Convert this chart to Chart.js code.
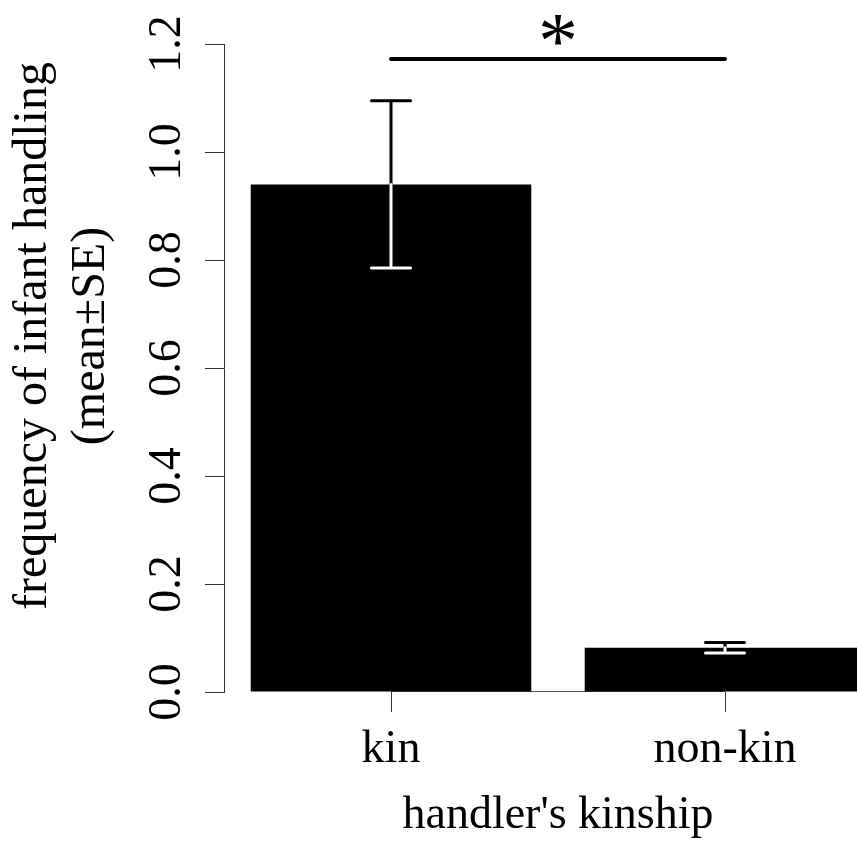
<!DOCTYPE html>
<html>
<head>
<meta charset="utf-8">
<script src="https://cdn.jsdelivr.net/npm/chart.js@4.4.1/dist/chart.umd.min.js"></script>
<style>
    html, body { margin: 0; padding: 0; overflow: hidden; background: #fff; }
    canvas { display: block; position: absolute; left: 0; top: 0; }
</style>
</head>
<body>
<canvas id="chart" width="900" height="849"></canvas>
<script>
// values
const categories = ['kin', 'non-kin'];
const means = [0.94, 0.082];
const stdErrors = [0.155, 0.0096];
const yRange = [0, 1.2];
const yStep = 0.2;
const sigPair = [0, 1];       // bars joined by the significance line
const sigLevel = 1.172;
const sigMark = '*';
const xTitle = "handler's kinship";
const yTitle = ['frequency of infant handling', '(mean\u00b1SE)'];

const FONT = 'Liberation Serif, Times New Roman, serif';

// R-style extras: rotated y labels, y title, error bars, significance bar
const extras = {
    id: 'extras',
    beforeDatasetsDraw(chart) {
        const ctx = chart.ctx;
        const x = chart.scales.x;
        const bottom = chart.chartArea.bottom;
        //axis line from first to last tick, mostly hidden by the bars
        ctx.save();
        ctx.strokeStyle = '#555';
        ctx.lineWidth = 1;
        ctx.beginPath();
        ctx.moveTo(x.getPixelForTick(0), bottom - 0.5);
        ctx.lineTo(x.getPixelForTick(categories.length - 1), bottom - 0.5);
        ctx.stroke();
        ctx.restore();
    },
    afterDatasetsDraw(chart) {
        const ctx = chart.ctx;
        const y = chart.scales.y;
        const bars = chart.getDatasetMeta(0).data;
        ctx.save();
        ctx.lineCap = 'round';
        ctx.lineWidth = 3;
        bars.forEach((bar, i) => {
            const top = y.getPixelForValue(means[i]);
            const hi = y.getPixelForValue(means[i] + stdErrors[i]);
            const lo = y.getPixelForValue(means[i] - stdErrors[i]);
            const half = 19.5;
            //upper whisker in black, lower one in white over the bar
            [[hi, '#000'], [lo, '#fff']].forEach(([end, col]) => {
                ctx.strokeStyle = col;
                ctx.beginPath();
                ctx.moveTo(bar.x, top);
                ctx.lineTo(bar.x, end);
                ctx.moveTo(bar.x - half, end);
                ctx.lineTo(bar.x + half, end);
                ctx.stroke();
            });
        });

        //significance bar
        const ys = y.getPixelForValue(sigLevel);
        const x0 = bars[sigPair[0]].x;
        const x1 = bars[sigPair[1]].x;
        ctx.strokeStyle = '#000';
        ctx.lineWidth = 4;
        ctx.beginPath();
        ctx.moveTo(x0, ys);
        ctx.lineTo(x1, ys);
        ctx.stroke();
        ctx.fillStyle = '#000';
        ctx.font = '80px ' + FONT;
        ctx.textAlign = 'center';
        ctx.textBaseline = 'alphabetic';
        ctx.fillText(sigMark, (x0 + x1) / 2, ys + 9);
        ctx.restore();
    },
    afterDraw(chart) {
        const ctx = chart.ctx;
        const y = chart.scales.y;
        const area = chart.chartArea;
        ctx.save();
        ctx.fillStyle = '#000';
        ctx.textAlign = 'center';
        ctx.textBaseline = 'alphabetic';
        ctx.font = '46px ' + FONT;
        //tick labels run along the axis, as in R's las=0
        y.ticks.forEach((t) => {
            ctx.save();
            ctx.translate(area.left - 44, y.getPixelForValue(t.value));
            ctx.rotate(-Math.PI / 2);
            ctx.fillText(t.value.toFixed(1), 0, 0);
            ctx.restore();
        });
        //two-line y title
        ctx.font = '48px ' + FONT;
        const cy = (area.top + area.bottom) / 2 - 32;
        yTitle.forEach((line, i) => {
            ctx.save();
            ctx.translate(46 + i * 58, cy);
            ctx.rotate(-Math.PI / 2);
            ctx.fillText(line, 0, 0);
            ctx.restore();
        });
        ctx.restore();
    },
};

new Chart(document.getElementById('chart').getContext('2d'), {
    type: 'bar',
    data: {
        labels: categories,
        datasets: [{
            data: means,
            backgroundColor: '#000',
            borderWidth: 0,
            barPercentage: 0.84,
            categoryPercentage: 1,
        }],
    },
    options: {
        responsive: false,
        animation: false,
        layout: {
            padding: { top: 44, right: 8, left: 0, bottom: 0 },
        },
        plugins: {
            legend: { display: false },
            tooltip: { enabled: false },
        },
        scales: {
            x: {
                offset: true,
                grid: {
                    drawOnChartArea: false,
                    drawTicks: true,
                    tickLength: 20,
                    offset: false,
                    color: '#333',
                },
                border: { display: false },
                ticks: {
                    color: '#000',
                    font: { family: FONT, size: 46 },
                    padding: 10,
                    maxRotation: 0,
                    autoSkip: false,
                },
                title: {
                    display: true,
                    text: xTitle,
                    color: '#000',
                    font: { family: FONT, size: 46 },
                    padding: { top: 0, bottom: 5 },
                },
                afterFit: (s) => { s.height = 157; },
            },
            y: {
                min: yRange[0],
                max: yRange[1],
                ticks: { display: false, stepSize: yStep },
                grid: {
                    drawOnChartArea: false,
                    drawTicks: true,
                    tickLength: 19,
                    color: '#333',
                },
                border: { display: true, color: '#333', width: 1 },
                afterFit: (s) => { s.width = 224; },
            },
        },
    },
    plugins: [extras],
});
</script>
</body>
</html>
